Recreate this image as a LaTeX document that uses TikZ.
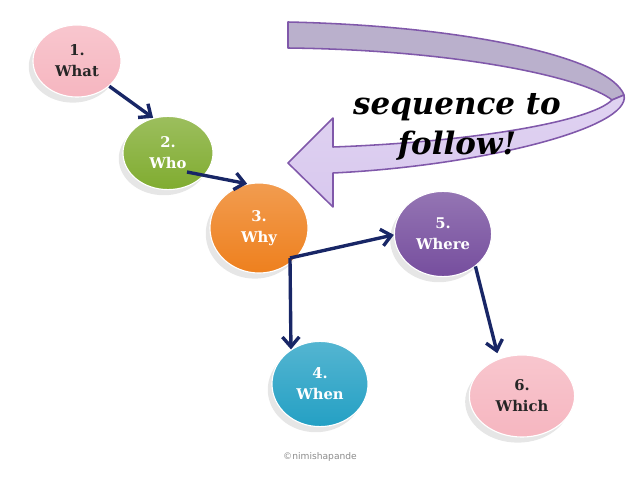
\documentclass[tikz,border=0pt]{standalone}
\usepackage{fontspec}
\setmainfont{DejaVu Serif}
\newfontfamily\notefont{DejaVu Sans}
\usetikzlibrary{arrows.meta,positioning,shapes.geometric,shadows}
\definecolor{NavyArrow}{RGB}{24,38,102}
\definecolor{SoftPink}{RGB}{246,182,192}
\definecolor{LeafGreen}{RGB}{128,172,48}
\definecolor{DeepOrange}{RGB}{238,128,30}
\definecolor{SkyTeal}{RGB}{36,160,196}
\definecolor{GrapePurple}{RGB}{118,78,158}
\definecolor{BandBack}{RGB}{186,176,204}
\definecolor{BandFront}{RGB}{216,200,238}
\definecolor{BandEdge}{RGB}{128,88,170}
\tikzset{
  bubble/.style={ellipse,inner sep=0pt,draw=white,line width=0.8pt,
    top color=#1!78!white,bottom color=#1,align=center,
    font=\fontsize{10.5}{15}\selectfont\bfseries,text=white,
    drop shadow={shadow xshift=-3pt,shadow yshift=-4pt,opacity=0.2}},
  darktext/.style={text=black!85},
  arrow/.style={-{Straight Barb[length=7pt,width=12pt,line width=2.4pt]},
    line width=2.4pt,NavyArrow},
  band/.style={draw=BandEdge,line width=1.1pt,line join=round}
}
\begin{document}
\begin{tikzpicture}[x=0.025cm,y=-0.025cm]
  \useasboundingbox (0,0) rectangle (640,480);
  \draw[band,fill=BandBack]
    (288,22) .. controls (470,26) and (610,58) .. (624,95)
    -- (612,100) .. controls (585,78) and (460,50) .. (288,48) -- cycle;
  \draw[band,top color=BandFront!80!white,bottom color=BandFront]
    (624,95) .. controls (632,128) and (480,166) .. (333,173)
    -- (333,207) -- (288,163) -- (333,118) -- (333,147)
    .. controls (470,142) and (590,122) .. (612,100) -- cycle;
  \node[font=\fontsize{22}{29}\selectfont\bfseries\itshape,align=center]
    (motto) at (457,127) {sequence to\\follow!};

  \node[bubble=SoftPink,darktext,minimum width=2.2cm,minimum height=1.8cm]
    (what) at (77,61) {1.\\What};
  \node[bubble=LeafGreen,minimum width=2.25cm,minimum height=1.83cm]
    (who) at (168,153) {2.\\Who};
  \node[bubble=DeepOrange,minimum width=2.45cm,minimum height=2.25cm]
    (why) at (259,228) {3.\\Why};
  \node[bubble=SkyTeal,minimum width=2.4cm,minimum height=2.13cm]
    (when) at (320,384) {4.\\When};
  \node[bubble=GrapePurple,minimum width=2.43cm,minimum height=2.13cm]
    (where) at (443,234) {5.\\Where};
  \node[bubble=SoftPink,darktext,minimum width=2.63cm,minimum height=2.05cm]
    (which) at (522,396) {6.\\Which};

  \coordinate (whoend) at ([shift={(19,19)}]who.center);
  \coordinate (fork) at ([shift={(31,30)}]why.center);
  \draw[arrow] (what.-38) -- (who.113);
  \draw[arrow] (whoend) -- (why.105);
  \draw[arrow] (fork) -- (where.181);
  \draw[arrow] (fork) -- (when.130);
  \draw[arrow,shorten >=4pt] (where.-45) -- (which.122);

  \node[font=\notefont\fontsize{6.5}{8}\selectfont,text=black!45]
    (credit) at (320,457) {©nimishapande};
\end{tikzpicture}
\end{document}
